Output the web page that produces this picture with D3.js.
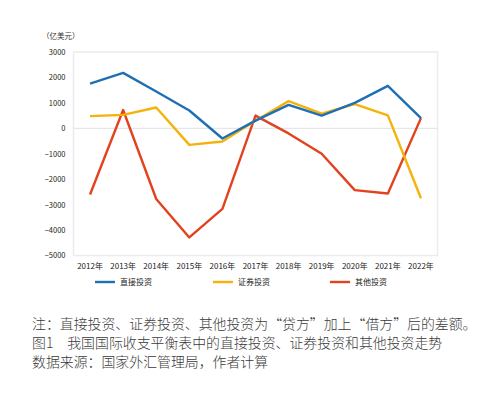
<!DOCTYPE html>
<html lang="zh">
<head>
<meta charset="UTF-8">
<title>直接投资、证券投资和其他投资走势</title>
<script src="https://d3js.org/d3.v7.min.js"></script>
<style>
  body { margin: 0; background: #fff; }
  svg text { font-family: "Noto Sans CJK SC", "DejaVu Sans", sans-serif; }
</style>
</head>
<body>
<svg width="504" height="399"></svg>
<script>
// 年份和三组数据（亿美元）
var years = ['2012年', '2013年', '2014年', '2015年', '2016年', '2017年', '2018年', '2019年', '2020年', '2021年', '2022年']
var direct = [1760, 2180, 1450, 700, -400, 300, 920, 500, 1000, 1670, 400]
var securities = [480, 530, 820, -650, -520, 300, 1070, 580, 950, 510, -2750]
var other = [-2600, 720, -2780, -4290, -3170, 500, -200, -1000, -2430, -2560, 400]
var yTicks = [3000, 2000, 1000, 0, -1000, -2000, -3000, -4000, -5000]

var seriesNames = ['直接投资', '证券投资', '其他投资']
var colors = ['#1f6fb4', '#f5b20a', '#e2421e']
var allSeries = [direct, securities, other]

var svg = d3.select('svg')
// 注意 top 是 window 的保留名，不能直接用
var plotL = 73.5, plotR = 437.5, plotT = 52, plotB = 255.5

var x = d3.scaleBand().domain(years).range([plotL, plotR])
var y = d3.scaleLinear().domain([-5000, 3000]).range([plotB, plotT])

// 绘图区边框
svg.append('rect')
    .attr('x', plotL).attr('y', plotT)
    .attr('width', plotR - plotL).attr('height', plotB - plotT)
    .attr('fill', 'none')
    .attr('stroke', '#ececec')
    .attr('stroke-width', 1.5)

// 0 线
svg.append('line')
    .attr('x1', plotL).attr('x2', plotR)
    .attr('y1', y(0)).attr('y2', y(0))
    .attr('stroke', '#e6e6e6')
    .attr('stroke-width', 1.2)

// y 轴
var yAxis = d3.axisLeft(y).tickValues(yTicks).tickFormat(d3.format('d')).tickSize(0).tickPadding(8)
var gy = svg.append('g').attr('transform', 'translate(' + plotL + ',0)').call(yAxis)
gy.select('.domain').remove()
gy.selectAll('text').attr('font-size', 7.5).attr('fill', '#222')

// x 轴
var xAxis = d3.axisBottom(x).tickSize(0).tickPadding(8)
var gx = svg.append('g').attr('transform', 'translate(0,' + plotB + ')').call(xAxis)
gx.select('.domain').remove()
gx.selectAll('text').attr('font-size', 8).attr('fill', '#222')

svg.append('text')
    .attr('x', 42).attr('y', 39)
    .attr('font-size', 7.5).attr('fill', '#333')
    .text('（亿美元）')

// 折线
var line = d3.line()
    .x(function(d, i) { return x(years[i]) + x.bandwidth() / 2 })
    .y(function(d) { return y(d) })

// 先画其他投资，再画证券、直接
;[2, 1, 0].forEach(function(k) {
    svg.append('path')
        .datum(allSeries[k])
        .attr('d', line)
        .attr('fill', 'none')
        .attr('stroke', colors[k])
        .attr('stroke-width', 2.4)
        .attr('stroke-linejoin', 'round')
})

// 图例
var legendX = [95, 213, 330]
seriesNames.forEach(function(name, i) {
    svg.append('line')
        .attr('x1', legendX[i]).attr('x2', legendX[i] + 20)
        .attr('y1', 282).attr('y2', 282)
        .attr('stroke', colors[i]).attr('stroke-width', 2.4)
    svg.append('text')
        .attr('x', legendX[i] + 25).attr('y', 285)
        .attr('font-size', 8).attr('fill', '#222')
        .text(name)
})

// 注释
var notes = [
    '注：直接投资、证券投资、其他投资为“贷方”加上“借方”后的差额。',
    '图1　我国国际收支平衡表中的直接投资、证券投资和其他投资走势',
    '数据来源：国家外汇管理局，作者计算'
]
notes.forEach(function(t, i) {
    svg.append('text')
        .attr('x', 32).attr('y', 329 + i * 19)
        .attr('font-size', 13.9).attr('fill', '#3a3a3a')
        .attr('font-weight', 300)
        .text(t)
})
</script>
</body>
</html>
